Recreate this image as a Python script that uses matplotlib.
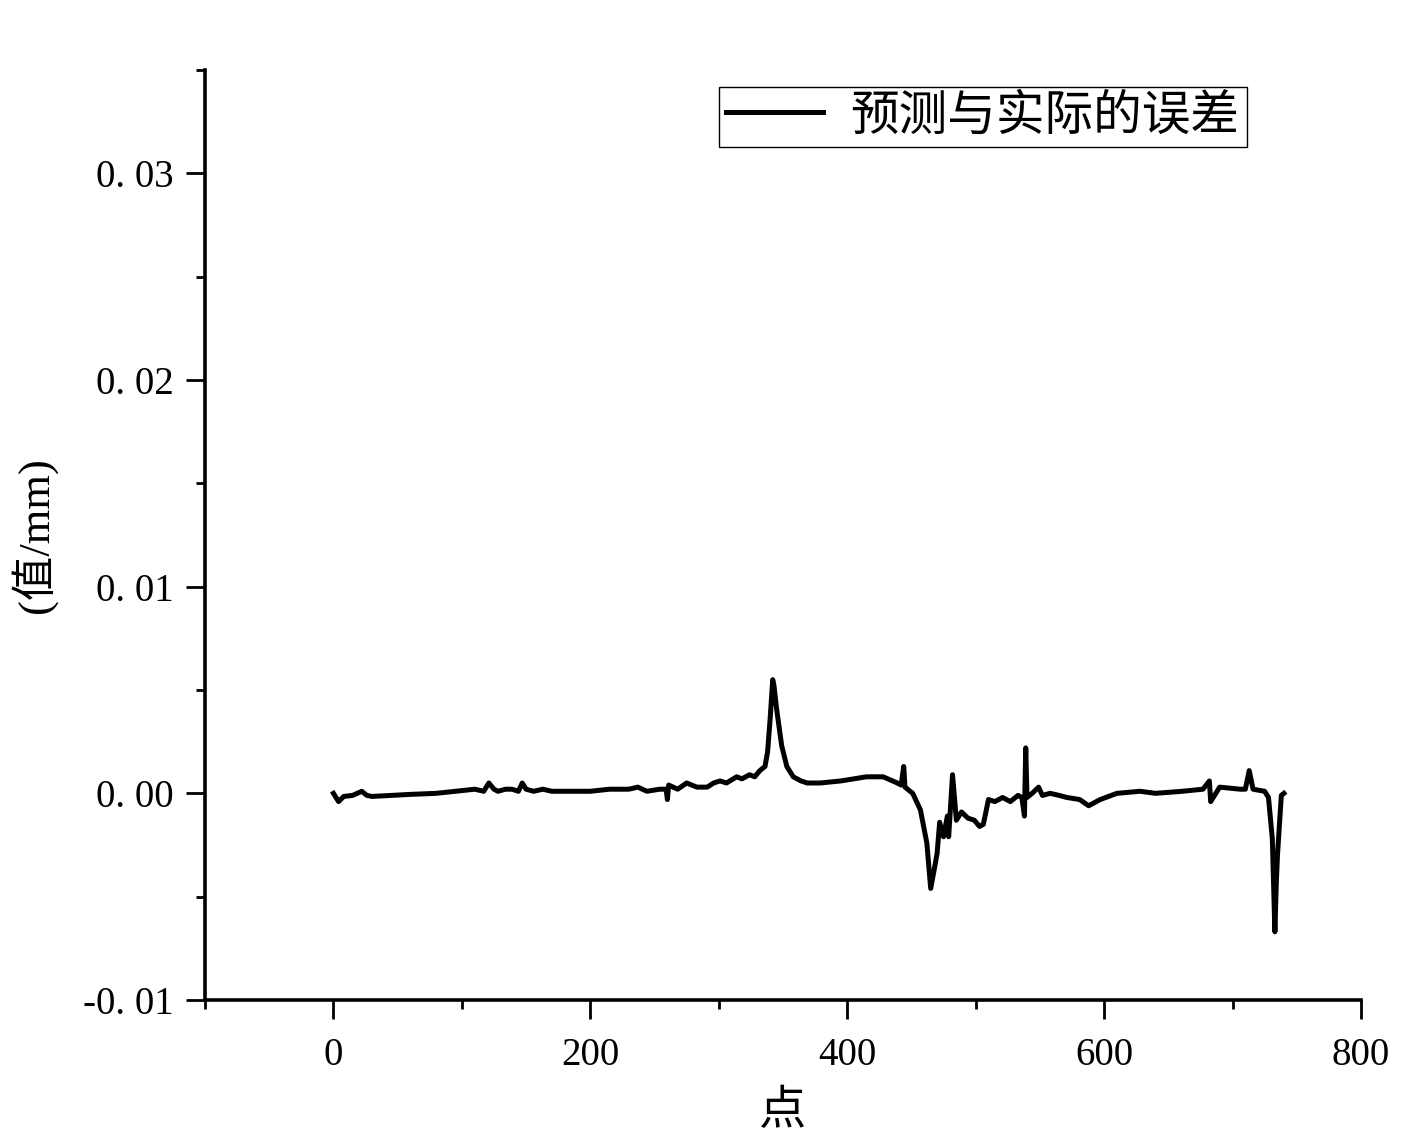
import matplotlib
matplotlib.use("Agg")
import matplotlib.pyplot as plt
from matplotlib.ticker import MultipleLocator, FixedLocator

plt.rcParams['font.family'] = ['Liberation Serif', 'Noto Sans CJK SC', 'DejaVu Sans']
plt.rcParams['axes.unicode_minus'] = False

# error curve
point = [0, 4, 8, 15, 22, 26, 30, 45, 60, 80, 95, 110, 117, 121, 125, 128, 134, 139, 144,
         147, 150, 156, 163, 170, 184, 200, 215, 230, 237, 244, 254, 259, 260, 261, 268,
         275, 283, 291, 296, 301, 306, 314, 318, 324, 328, 332, 336, 338, 340, 342, 343,
         345, 349, 353, 358, 364, 369, 379, 395, 415, 428, 439, 442, 444, 445, 451, 457,
         462, 465, 468, 470, 472, 475, 478, 479, 482, 485, 489, 494, 499, 503, 506, 510,
         515, 521, 527, 533, 536, 538, 539, 540, 544, 549, 552, 558, 565, 571, 581, 588,
         597, 610, 628, 640, 661, 677, 682, 683, 690, 706, 710, 713, 716, 725, 728, 731,
         733, 734, 735, 738, 740]
error = [0.0000, -0.0004, -0.00015, -0.0001, 0.0001, -0.0001, -0.00015, -0.0001, -0.00005,
         0.0000, 0.0001, 0.0002, 0.0001, 0.0005, 0.0002, 0.0001, 0.0002, 0.0002, 0.0001,
         0.0005, 0.0002, 0.0001, 0.0002, 0.0001, 0.0001, 0.0001, 0.0002, 0.0002, 0.0003,
         0.0001, 0.0002, 0.0002, -0.0003, 0.0004, 0.0002, 0.0005, 0.0003, 0.0003, 0.0005,
         0.0006, 0.0005, 0.0008, 0.0007, 0.0009, 0.0008, 0.0011, 0.0013, 0.0020, 0.0036,
         0.0055, 0.0052, 0.0041, 0.0023, 0.0013, 0.0008, 0.0006, 0.0005, 0.0005, 0.0006,
         0.0008, 0.0008, 0.0005, 0.0004, 0.0013, 0.0003, 0.0000, -0.0008, -0.0024, -0.0046,
         -0.0036, -0.0029, -0.0014, -0.0021, -0.0011, -0.0021, 0.0009, -0.0013, -0.0009,
         -0.0012, -0.0013, -0.0016, -0.0015, -0.0003, -0.0004, -0.0002, -0.0004, -0.0001,
         -0.0002, -0.0011, 0.0022, -0.0002, 0.0000, 0.0003, -0.0001, 0.0000, -0.0001,
         -0.0002, -0.0003, -0.0006, -0.0003, 0.0000, 0.0001, 0.0000, 0.0001, 0.0002,
         0.0006, -0.0004, 0.0003, 0.0002, 0.0002, 0.0011, 0.0002, 0.0001, -0.0002,
         -0.0022, -0.0067, -0.0045, -0.0030, -0.0001, 0.0000]

x_ticks = [0, 200, 400, 600, 800]
y_ticks = [-0.01, 0.00, 0.01, 0.02, 0.03]
y_tick_labels = ['-0. 01', '0. 00', '0. 01', '0. 02', '0. 03']

fig = plt.figure(figsize=(14.09, 11.40), dpi=100)
ax = fig.add_axes([0.1455, 0.1228, 0.8204, 0.8158])

ax.plot(point, error, color='black', lw=3.6, label='预测与实际的误差')

ax.set_xlim(-100, 800)
ax.set_ylim(-0.01, 0.035)
ax.xaxis.set_major_locator(FixedLocator(x_ticks))
ax.xaxis.set_minor_locator(MultipleLocator(100))
ax.yaxis.set_major_locator(FixedLocator(y_ticks))
ax.yaxis.set_minor_locator(MultipleLocator(0.005))
ax.set_yticklabels(y_tick_labels)

for s in ['top', 'right']:
    ax.spines[s].set_visible(False)
for s in ['left', 'bottom']:
    ax.spines[s].set_linewidth(2.6)

ax.tick_params(which='major', direction='out', length=13.5, width=2.0, labelsize=28, pad=9)
ax.tick_params(which='minor', direction='out', length=6.5, width=2.0)
ax.tick_params(axis='x', which='major', pad=13)

ax.set_xlabel('点', fontsize=34, labelpad=12)
ax.set_ylabel('(值/mm)', fontsize=32, labelpad=18)

leg = ax.legend(loc='upper right', bbox_to_anchor=(0.901, 0.982), borderaxespad=0,
                fontsize=35, handlelength=2.0, handletextpad=0.55, fancybox=False,
                framealpha=1, edgecolor='black', borderpad=0.15)
leg.get_frame().set_linewidth(1.0)

fig.savefig('out.png', dpi=100)
